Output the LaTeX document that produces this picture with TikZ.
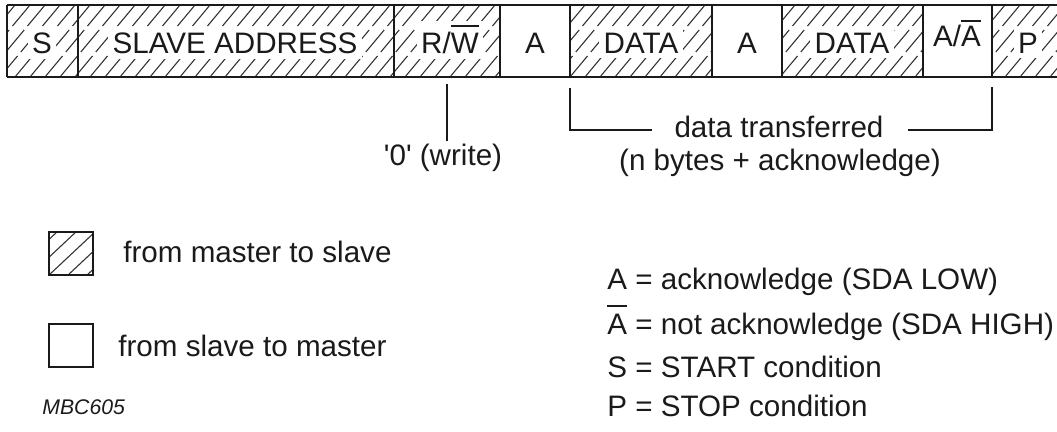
\documentclass[tikz,border=0pt]{standalone}
\usepackage{fontspec}
\setmainfont{Liberation Sans}
\newfontfamily\plainfont{Liberation Sans}
\newsavebox{\ovlbox}
\newcommand{\myovl}[2][3pt]{\sbox{\ovlbox}{#2}\leavevmode\rlap{\raisebox{\dimexpr\ht\ovlbox+#1\relax}{\rule{\wd\ovlbox}{0.8pt}}}\usebox{\ovlbox}}
\definecolor{ink}{HTML}{1A1A1A}
\definecolor{hatchc}{HTML}{333333}
\begin{document}
\begin{tikzpicture}[x=0.5pt,y=-0.5pt,
  frame/.style={draw=ink, line width=1pt},
  hatchline/.style={draw=hatchc, line width=0.55pt},
  txt/.style={font=\fontsize{14.8}{17}\selectfont, text=ink, inner sep=0pt, anchor=base},
  lbl/.style={txt, fill=white, inner sep=2.2pt},
  legtxt/.style={txt, anchor=base west},
  legbox/.style={draw=ink, line width=0.8pt, minimum width=22pt, minimum height=21.5pt, inner sep=0pt},
  conn/.style={draw=ink, line width=0.8pt}]
\useasboundingbox (0,0) rectangle (1057,432);
\clip (0,0) rectangle (1057,432);
% hatching of the master-to-slave fields
\begin{scope}
  \clip (7,5) rectangle (500,77) (570,5) rectangle (712,77) (782,5) rectangle (923,77) (992,5) rectangle (1070,77);
  \foreach \x in {-90,-75,...,1080} {
    \draw[hatchline] (\x+0.8,76) -- (\x+17.5,56);
    \draw[hatchline] (\x+20.8,52) -- (\x+39.2,30);
    \draw[hatchline] (\x+42.5,26) -- (\x+59.2,6);
  }
\end{scope}
% field labels
\node[lbl] (fS) at (42,54) {S};
\node[lbl] (fSA) at (235,54) {SLAVE ADDRESS};
\node[lbl] (fRW) at (450,54) {R/\myovl[3.5pt]{W}};
\node[txt] (fA1) at (535,54) {A};
\node[lbl] (fD1) at (641,54) {DATA};
\node[txt] (fA2) at (747,54) {A};
\node[lbl] (fD2) at (852,54) {DATA};
\node[txt] (fAA) at (957,47) {A/\myovl[2.5pt]{A}};
\node[lbl] (fP) at (1028,54) {P};
% frame
\draw[frame] (7,5) -- (1070,5) (7,77) -- (1070,77);
\foreach \x in {7,78,394,500,570,712,782,923,992} \draw[frame] (\x,5) -- (\x,77);
% write marker
\coordinate (rwtop) at (447,84);
\coordinate (rwbot) at (447,141);
\draw[conn] (rwtop) -- (rwbot);
\node[txt, font=\plainfont\fontsize{14.8}{17}\selectfont] (zero) at (443,166) {'0' (write)};
% data transferred bracket
\node[txt] (dt) at (779,138) {data transferred};
\node[txt] (nb) at (780,171) {(n bytes + acknowledge)};
\coordinate (bl1) at (570,88);
\coordinate (bl2) at (570,130);
\coordinate (bl3) at (652,130);
\coordinate (br1) at (992,87);
\coordinate (br2) at (992,130);
\coordinate (br3) at (908,130);
\draw[conn] (bl1) -- (bl2) -- (bl3);
\draw[conn] (br1) -- (br2) -- (br3);
% legend boxes
\begin{scope}
  \clip (49,232) rectangle (93,275);
  \foreach \x in {10,29,...,110} \draw[hatchline] (\x,276) -- (\x+48,231);
\end{scope}
\node[legbox] (lh) at (71,253.5) {};
\node[legtxt] (lht) at (123,263) {from master to slave};
\node[legbox] (lo) at (71,345.5) {};
\node[legtxt] (lot) at (118,357) {from slave to master};
\node[txt, anchor=base west, font=\fontsize{10.6}{12}\itshape] (mbc) at (42,415) {MBC605};
% definitions
\node[legtxt] (dA) at (607,290) {A = acknowledge (SDA LOW)};
\node[legtxt] (dNA) at (607,335) {\myovl[4pt]{A} = not acknowledge (SDA HIGH)};
\node[legtxt] (dS) at (607,378) {S = START condition};
\node[legtxt] (dP) at (607,417) {P = STOP condition};
\end{tikzpicture}
\end{document}
